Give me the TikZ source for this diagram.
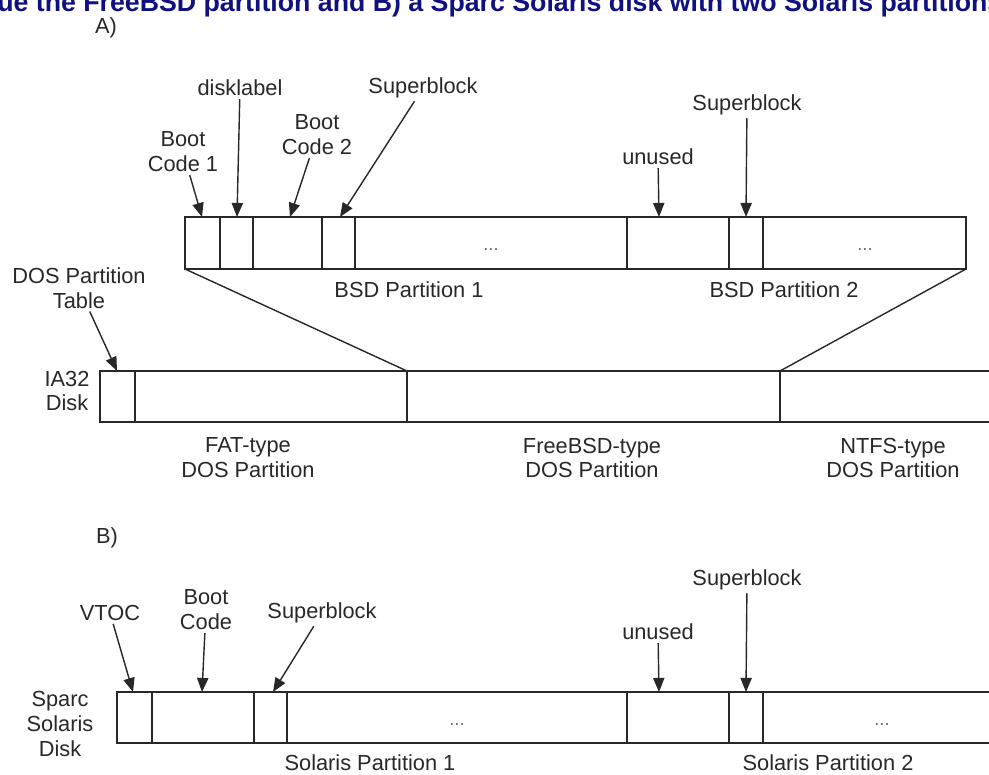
\documentclass[tikz,border=0pt]{standalone}
\usepackage{fontspec}
\setmainfont{Liberation Sans}
\usetikzlibrary{arrows.meta, positioning, calc}
\definecolor{ink}{RGB}{40,40,40}
\definecolor{capblue}{RGB}{16,16,128}

\begin{document}
\begin{tikzpicture}[x=0.025cm, y=-0.025cm,
    lbl/.style={align=center, inner sep=2pt, text=ink, font=\fontsize{15.5}{17.7}\selectfont},
    dots/.style={inner sep=0pt, text=ink!70, font=\fontsize{13}{15}\selectfont},
    ptr/.style={draw=ink, line width=1pt, -{Triangle[length=10pt, width=8pt]}},
    disk/.style={draw=ink, line width=2pt},
    slice/.style={draw=ink, line width=1.2pt},
    plain/.style={draw=ink, line width=1pt}]

    \useasboundingbox (0,0) rectangle (989,775);
    \clip (0,0) rectangle (989,775);

    \node [anchor=base west, inner sep=0pt, text=capblue, font=\fontsize{19}{22}\selectfont\bfseries] (caption) at (-3,12) {ue the FreeBSD partition and B) a Sparc Solaris disk with two Solaris partitions};

    % A) the IA32 disk, with its FreeBSD slice blown up above it
    \node [lbl] (A) at (106,28) {A)};

    \draw [disk] (185,217) rectangle (966,269);
    \foreach \x in {220,253,322,355,729,763}
        \draw [slice] (\x,217) -- (\x,269);
    \draw [disk] (627,217) -- (627,269);
    \coordinate (bsdL) at (185,269);
    \coordinate (bsdR) at (966,269);

    \node [dots] (dotsA) at (491,250) {...};
    \node [dots] (dotsB) at (865,250) {...};
    \node [lbl] (bsd1) at (409,290) {BSD Partition 1};
    \node [lbl] (bsd2) at (784,290) {BSD Partition 2};

    \coordinate (boot1) at (202,217);
    \coordinate (label) at (237,217);
    \coordinate (boot2) at (290,217);
    \coordinate (super1) at (340,217);
    \coordinate (unused1) at (659,217);
    \coordinate (super2) at (746,217);

    \node [lbl] (bc1) at (183,152) {Boot\\Code 1};
    \node [lbl] (dl) at (240,88) {disklabel};
    \node [lbl] (bc2) at (317,135) {Boot\\Code 2};
    \node [lbl] (sb1) at (423,88) {Superblock};
    \node [lbl] (un1) at (658,157) {unused};
    \node [lbl] (sb2) at (747,105) {Superblock};

    \draw [ptr] (bc1) -- (boot1);
    \draw [ptr] (dl) -- (label);
    \draw [ptr] (bc2) -- (boot2);
    \draw [ptr] (sb1) -- (super1);
    \draw [ptr] (un1) -- (unused1);
    \draw [ptr] (sb2) -- (super2);

    % the whole disk with its three DOS partitions
    \draw [plain] (995,371) -- (100,371) -- (100,422) -- (995,422);
    \foreach \x in {135,407,780}
        \draw [plain] (\x,371) -- (\x,422);
    \coordinate (dpt) at (117,371);
    \coordinate (fbsdL) at (407,371);
    \coordinate (fbsdR) at (780,371);

    \draw [plain] (bsdL) -- (fbsdL);
    \draw [plain] (bsdR) -- (fbsdR);

    \node [lbl] (table) at (79,288) {DOS Partition\\Table};
    \draw [ptr] (table) -- (dpt);
    \node [lbl] (ia32) at (67,391) {IA32\\Disk};
    \node [lbl] (fat) at (248,458) {FAT-type\\DOS Partition};
    \node [lbl] (fbsd) at (592,458) {FreeBSD-type\\DOS Partition};
    \node [lbl] (ntfs) at (893,458) {NTFS-type\\DOS Partition};

    % B) the Sparc disk with two Solaris partitions
    \node [lbl] (B) at (107,538) {B)};

    \draw [disk] (995,692) -- (117,692) -- (117,743) -- (995,743);
    \foreach \x in {152,254,287,729,763}
        \draw [slice] (\x,692) -- (\x,743);
    \draw [disk] (627,692) -- (627,743);

    \node [dots] (dotsC) at (457,725) {...};
    \node [dots] (dotsD) at (882,725) {...};
    \node [lbl] (sol1) at (370,763) {Solaris Partition 1};
    \node [lbl] (sol2) at (828,763) {Solaris Partition 2};
    \node [lbl] (sparc) at (60,724) {Sparc\\Solaris\\Disk};

    \coordinate (vtoc) at (133,692);
    \coordinate (boot) at (202,692);
    \coordinate (super3) at (273,692);
    \coordinate (unused2) at (659,692);
    \coordinate (super4) at (746,692);

    \node [lbl] (vt) at (110,613) {VTOC};
    \node [lbl] (bc) at (206,610) {Boot\\Code};
    \node [lbl] (sb3) at (322,613) {Superblock};
    \node [lbl] (un2) at (658,632) {unused};
    \node [lbl] (sb4) at (747,580) {Superblock};

    \draw [ptr] (vt) -- (vtoc);
    \draw [ptr] (bc) -- (boot);
    \draw [ptr] (sb3) -- (super3);
    \draw [ptr] (un2) -- (unused2);
    \draw [ptr] (sb4) -- (super4);
\end{tikzpicture}
\end{document}
